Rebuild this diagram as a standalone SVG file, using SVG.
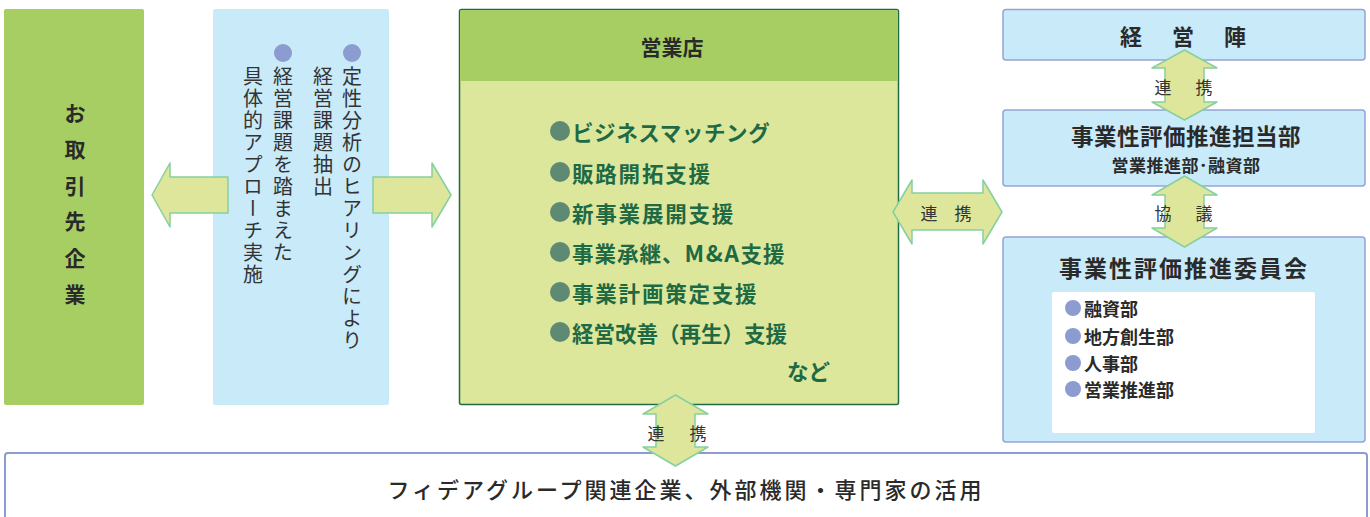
<svg xmlns="http://www.w3.org/2000/svg" width="1370" height="517" viewBox="0 0 1370 517">
<defs>
<style>
text{font-family:"Noto Sans CJK JP","Noto Sans",sans-serif;dominant-baseline:central;}
.blue{fill:#c9eaf9;stroke:#95a3d8;stroke-width:1.5;}
.arrow{fill:#dde69a;stroke:#86d0a0;stroke-width:1.5;stroke-linejoin:round;}
.lbl{font-size:17px;fill:#333;text-anchor:middle;}
.vt{font-size:20px;fill:#333;writing-mode:vertical-rl;letter-spacing:2px;}
.item{font-size:21.5px;font-weight:bold;fill:#1d6a45;}
.mem{font-size:18px;font-weight:bold;fill:#2a2a2a;}
.dotg{fill:#5e8a73;}
.dotb{fill:#8c9bd0;}
.left{font-size:21px;font-weight:bold;fill:#2a2a2a;text-anchor:middle;}
</style>
</defs>

<g id="customer">
<rect x="4" y="9" width="140" height="396" rx="2" fill="#a6ce62"/>
<text class="left" x="75" y="112">お</text>
<text class="left" x="75" y="148">取</text>
<text class="left" x="75" y="185">引</text>
<text class="left" x="75" y="220">先</text>
<text class="left" x="75" y="257">企</text>
<text class="left" x="75" y="293">業</text>
</g>

<g id="approach">
<rect x="213" y="9" width="176" height="396" rx="2" fill="#c9eaf9"/>
<circle class="dotb" cx="352" cy="53" r="9"/>
<circle class="dotb" cx="283" cy="53" r="9"/>
<text class="vt" x="352" y="66">定性分析のヒアリングにより</text>
<text class="vt" x="323" y="66">経営課題抽出</text>
<text class="vt" x="283" y="66">経営課題を踏まえた</text>
<text class="vt" x="253" y="66">具体的アプローチ実施</text>
</g>

<g id="branch">
<rect x="459.5" y="9.5" width="439" height="395" rx="2" fill="#dde79c" stroke="#1f6b45" stroke-width="1.5"/>
<rect x="460.25" y="10.25" width="437.5" height="70.75" fill="#a6ce62"/>
<text x="672" y="46" font-size="21" font-weight="bold" fill="#2a2a2a" text-anchor="middle">営業店</text>
<circle class="dotg" cx="560" cy="131" r="10"/>
<circle class="dotg" cx="560" cy="172" r="10"/>
<circle class="dotg" cx="560" cy="212" r="10"/>
<circle class="dotg" cx="560" cy="252" r="10"/>
<circle class="dotg" cx="560" cy="292" r="10"/>
<circle class="dotg" cx="560" cy="332" r="10"/>
<text class="item" x="572" y="131" letter-spacing="0.6">ビジネスマッチング</text>
<text class="item" x="572" y="172" letter-spacing="1.8">販路開拓支援</text>
<text class="item" x="572" y="212" letter-spacing="1.8">新事業展開支援</text>
<text class="item" x="572" y="252" letter-spacing="1">事業承継、<tspan font-size="23" letter-spacing="1.5">M&amp;A</tspan>支援</text>
<text class="item" x="572" y="292" letter-spacing="1.8">事業計画策定支援</text>
<text class="item" x="572" y="332" letter-spacing="0">経営改善（再生）支援</text>
<text class="item" x="787" y="370">など</text>
</g>

<g id="management">
<rect class="blue" x="1003" y="9.5" width="362" height="50.5" rx="3"/>
<text x="1131" y="35" font-size="22" font-weight="bold" fill="#2a2a2a" text-anchor="middle">経</text>
<text x="1183" y="35" font-size="22" font-weight="bold" fill="#2a2a2a" text-anchor="middle">営</text>
<text x="1235" y="35" font-size="22" font-weight="bold" fill="#2a2a2a" text-anchor="middle">陣</text>
</g>

<g id="eval-dept">
<rect class="blue" x="1003" y="110" width="362" height="76" rx="3"/>
<text x="1186" y="135" font-size="22.5" font-weight="bold" fill="#2a2a2a" text-anchor="middle" letter-spacing="0.5">事業性評価推進担当部</text>
<text x="1186" y="164" font-size="17" font-weight="bold" fill="#2a2a2a" text-anchor="middle" letter-spacing="0.5">営業推進部･融資部</text>
</g>

<g id="committee">
<rect class="blue" x="1003" y="237" width="362" height="205" rx="3"/>
<text x="1184" y="267" font-size="23" font-weight="bold" fill="#2a2a2a" text-anchor="middle" letter-spacing="2">事業性評価推進委員会</text>
<rect x="1052" y="292" width="263" height="141" rx="2" fill="#ffffff"/>
<circle class="dotb" cx="1073" cy="308" r="8"/>
<circle class="dotb" cx="1073" cy="336" r="8"/>
<circle class="dotb" cx="1073" cy="363" r="8"/>
<circle class="dotb" cx="1073" cy="389" r="8"/>
<text class="mem" x="1084" y="308">融資部</text>
<text class="mem" x="1084" y="336">地方創生部</text>
<text class="mem" x="1084" y="363">人事部</text>
<text class="mem" x="1084" y="389">営業推進部</text>
</g>

<g id="external">
<rect x="5" y="453" width="1362" height="80" rx="3" fill="#ffffff" stroke="#8c9bd0" stroke-width="2"/>
<text x="686" y="488" font-size="22" font-weight="500" fill="#2a2a2a" text-anchor="middle" letter-spacing="3">フィデアグループ関連企業、外部機関・専門家の活用</text>
</g>

<g id="connectors">
<path class="arrow" d="M152,195 L170,163 L170,177 L228,177 L228,213 L170,213 L170,227 Z"/>
<path class="arrow" d="M373,177 L432,177 L432,163 L451,195 L432,227 L432,213 L373,213 Z"/>
<path class="arrow" d="M893,212 L912,180 L912,193 L983,193 L983,180 L1002,212 L983,244 L983,230 L912,230 L912,244 Z"/>
<text class="lbl" x="929" y="212">連</text>
<text class="lbl" x="963" y="212">携</text>
<path class="arrow" d="M1184.5,50 L1217,68 L1204,68 L1204,102 L1217,102 L1184.5,120 L1152,102 L1165,102 L1165,68 L1152,68 Z"/>
<text class="lbl" x="1163" y="86">連</text>
<text class="lbl" x="1204" y="86">携</text>
<path class="arrow" d="M1184.5,176 L1217,195 L1204,195 L1204,228 L1217,228 L1184.5,247 L1152,228 L1165,228 L1165,195 L1152,195 Z"/>
<text class="lbl" x="1163" y="212">協</text>
<text class="lbl" x="1204" y="212">議</text>
<path class="arrow" d="M675.5,395 L708,414 L695,414 L695,447 L708,447 L675.5,466 L643,447 L656,447 L656,414 L643,414 Z"/>
<text class="lbl" x="656" y="432">連</text>
<text class="lbl" x="698" y="432">携</text>
</g>
</svg>
